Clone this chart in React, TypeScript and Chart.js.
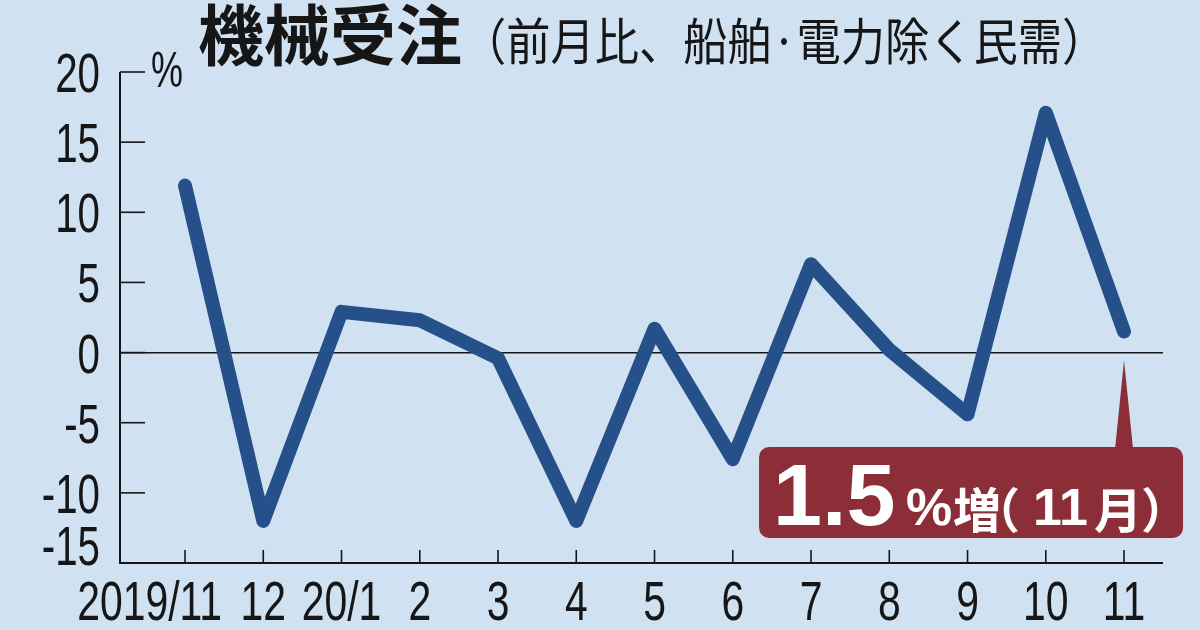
import React, { useEffect, useRef } from "react";
import { Chart, registerables } from "chart.js";

Chart.register(...registerables);

const categories = ["2019/11", "12", "20/1", "2", "3", "4", "5", "6", "7", "8", "9", "10", "11"];
const values = [11.9, -12.0, 2.9, 2.3, -0.4, -12.0, 1.7, -7.6, 6.3, 0.2, -4.4, 17.1, 1.5];
const yTickValues = [20, 15, 10, 5, 0, -5, -10, -15];
const titleMain = "機械受注";
const titleSub = "（前月比、船舶·電力除く民需）";
const unitLabel = "%";
const calloutValue = "1.5";
const calloutRest = ["%", "増", "（", "11", "月", "）"];

const BG = "#d0e1f2";
const LINE = "#255089";
const BOX = "#8b2e38";
const INK = "#161616";
const SANS = '"Liberation Sans", Arial, sans-serif';
const CJK = '"Noto Sans CJK JP", "Noto Sans", sans-serif';

function narrowText(ctx: any, text: string, x: number, y: number, align: string, sx: number) {
  ctx.save();
  ctx.translate(x, y);
  ctx.scale(sx, 1);
  ctx.textAlign = align;
  ctx.fillText(text, 0, 0);
  ctx.restore();
}

const decorPlugin = {
  id: "decor",
  beforeDraw(chart: any) {
    const ctx = chart.ctx;
    ctx.save();
    ctx.fillStyle = BG;
    ctx.fillRect(0, 0, chart.width, chart.height);
    ctx.restore();
  },
  afterDatasetsDraw(chart: any) {
    const ctx = chart.ctx;
    const area = chart.chartArea;
    const xs = chart.scales.x;
    const ys = chart.scales.y;
    ctx.save();

    // axes
    ctx.strokeStyle = INK;
    ctx.lineWidth = 2;
    ctx.beginPath();
    ctx.moveTo(area.left, ys.getPixelForValue(20));
    ctx.lineTo(area.left, area.bottom);
    ctx.lineTo(area.right, area.bottom);
    ctx.stroke();

    // y ticks (inward)
    ctx.lineWidth = 1.6;
    yTickValues.forEach((v) => {
      const y = ys.getPixelForValue(v);
      ctx.beginPath();
      ctx.moveTo(area.left, y);
      ctx.lineTo(area.left + 25, y);
      ctx.stroke();
    });
    // x ticks (inward)
    categories.forEach((_, i) => {
      const x = xs.getPixelForValue(i);
      ctx.beginPath();
      ctx.moveTo(x, area.bottom);
      ctx.lineTo(x, area.bottom - 13);
      ctx.stroke();
    });

    // y labels
    ctx.fillStyle = INK;
    ctx.font = `56px ${SANS}`;
    ctx.textBaseline = "alphabetic";
    yTickValues.forEach((v) => {
      let y = ys.getPixelForValue(v);
      if (v === -15) y -= 18;
      narrowText(ctx, String(v), area.left - 20, y + 20, "right", 0.72);
    });

    // x labels
    categories.forEach((c, i) => {
      const x = xs.getPixelForValue(i);
      if (i === 0) {
        narrowText(ctx, c, x + 37, 620, "right", 0.73);
      } else {
        narrowText(ctx, c, x, 620, "center", 0.73);
      }
    });

    // unit
    ctx.font = `50px ${SANS}`;
    narrowText(ctx, unitLabel, 151, 87, "left", 0.72);

    // title
    ctx.textAlign = "left";
    ctx.font = `bold 66px ${CJK}`;
    ctx.fillText(titleMain, 198, 60);
    const tw = ctx.measureText(titleMain).width;
    ctx.font = `50px ${CJK}`;
    narrowText(ctx, titleSub, 198 + tw, 60, "left", 0.885);

    // callout
    const lastI = values.length - 1;
    const px = xs.getPixelForValue(lastI);
    const py = ys.getPixelForValue(values[lastI]);
    const boxRight = px + 59;
    const boxLeft = px - 365;
    const boxBottom = area.bottom - 25;
    const boxTop = boxBottom - 91;
    ctx.fillStyle = BOX;
    ctx.beginPath();
    ctx.roundRect(boxLeft, boxTop, boxRight - boxLeft, boxBottom - boxTop, 10);
    ctx.fill();
    ctx.beginPath();
    ctx.moveTo(px - 9, boxTop + 2);
    ctx.lineTo(px, py + 29);
    ctx.lineTo(px + 9, boxTop + 2);
    ctx.closePath();
    ctx.fill();

    ctx.fillStyle = "#ffffff";
    ctx.textAlign = "left";
    ctx.textBaseline = "alphabetic";
    const base = boxBottom - 13;
    ctx.font = `bold 88px ${SANS}`;
    ctx.fillText(calloutValue, boxLeft + 14, base);
    const positions = [906, 953, 972, 1033, 1094, 1141];
    const fonts = [
      `bold 52px ${SANS}`,
      `bold 48px ${CJK}`,
      `bold 48px ${CJK}`,
      `bold 52px ${SANS}`,
      `bold 48px ${CJK}`,
      `bold 48px ${CJK}`,
    ];
    calloutRest.forEach((t, k) => {
      ctx.font = fonts[k];
      const x = positions[k] - 1183 + boxRight;
      ctx.fillText(t, x, base + (fonts[k].includes("CJK") ? 3 : 0));
    });

    ctx.restore();
  },
};

export default function App() {
  const ref = useRef<HTMLCanvasElement | null>(null);
  useEffect(() => {
    document.body.style.margin = "0";
    if (!ref.current) return;
    const chart = new Chart(ref.current, {
      type: "line",
      data: {
        datasets: [
          {
            data: values.map((v, i) => ({ x: i, y: v })),
            borderColor: LINE,
            borderWidth: 14,
            borderJoinStyle: "round",
            borderCapStyle: "round",
            pointRadius: 0,
            tension: 0,
            fill: false,
          },
        ],
      },
      options: {
        animation: false,
        responsive: false,
        devicePixelRatio: 1,
        layout: { padding: { top: 72, right: 37, bottom: 67, left: 0 } },
        plugins: { legend: { display: false }, tooltip: { enabled: false }, title: { display: false } },
        scales: {
          x: {
            type: "linear",
            min: -0.831,
            max: 12.498,
            display: false,
          },
          y: {
            min: -15,
            max: 20,
            ticks: { stepSize: 5, display: false },
            border: { display: false },
            grid: {
              drawTicks: false,
              lineWidth: 1.6,
              color: (c: any) => (c.tick && c.tick.value === 0 ? INK : "transparent"),
            },
            afterFit: (s: any) => {
              s.width = 120;
            },
          },
        },
      },
      plugins: [decorPlugin],
    } as any);
    return () => chart.destroy();
  }, []);
  return <canvas ref={ref} width={1200} height={630} style={{ display: "block" }} />;
}
